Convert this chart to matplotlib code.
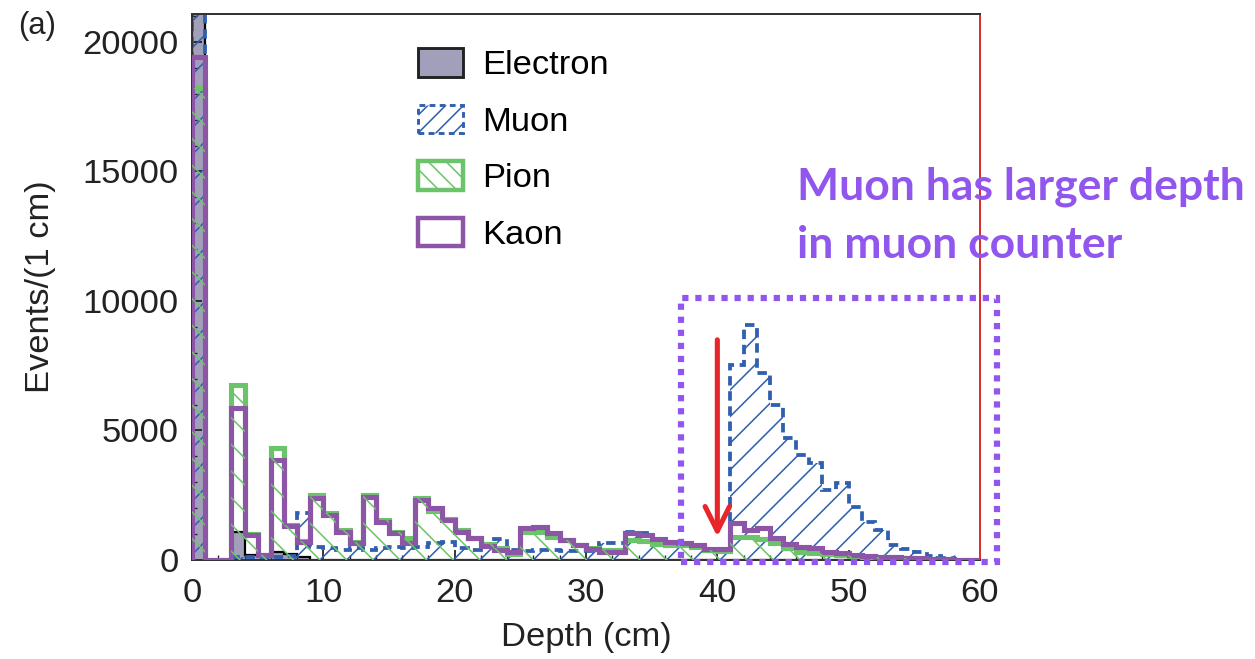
import numpy as np
import matplotlib
matplotlib.use('Agg')
import matplotlib.pyplot as plt
from matplotlib.patches import Patch, Rectangle
from matplotlib.ticker import MultipleLocator

# depth histogram, 1 cm bins from 0 to 60 cm
edges = np.arange(0, 61, 1)

electron = [25000, 0, 0, 1100, 200, 150, 300, 250, 100, 0,
            0, 0, 0, 0, 0, 0, 0, 0, 0, 0,
            0, 0, 0, 0, 0, 0, 0, 0, 0, 0,
            0, 0, 0, 0, 0, 0, 0, 0, 0, 0,
            0, 0, 0, 0, 0, 0, 0, 0, 0, 0,
            0, 0, 0, 0, 0, 0, 0, 0, 0, 0]

muon = [25000, 0, 0, 100, 100, 80, 100, 150, 1800, 500,
        450, 400, 450, 400, 450, 500, 450, 500, 650, 700,
        450, 400, 500, 800, 400, 350, 400, 380, 350, 330,
        350, 650, 650, 1100, 1050, 700, 650, 550, 450, 400,
        420, 7530, 9070, 7220, 5980, 4700, 4050, 3730, 2700, 2960,
        2060, 1480, 1160, 580, 410, 320, 150, 60, 0, 0]

pion = [18220, 0, 0, 6760, 1000, 200, 4320, 1350, 750, 2510,
        1800, 1150, 700, 2510, 1550, 1100, 850, 2400, 1900, 1580,
        1150, 850, 600, 450, 250, 1090, 1100, 900, 770, 580,
        450, 380, 380, 770, 740, 600, 580, 560, 520, 400,
        350, 900, 880, 800, 650, 460, 320, 280, 220, 200,
        150, 130, 100, 80, 60, 50, 40, 20, 10, 0]

kaon = [19420, 0, 0, 5860, 950, 200, 3860, 1300, 700, 2400,
        1740, 1090, 650, 2440, 1480, 1040, 650, 2320, 2000, 1540,
        1090, 840, 540, 390, 320, 1220, 1290, 1060, 770, 580,
        410, 320, 320, 1030, 965, 800, 710, 650, 580, 420,
        410, 1410, 1150, 1250, 840, 600, 520, 450, 300, 280,
        200, 150, 120, 100, 80, 60, 40, 20, 10, 0]

note_lines = ['Muon has larger depth', 'in muon counter']

c_el = '#a29fba'
c_mu = '#2f5fae'
c_pi = '#6cc46a'
c_ka = '#8c55a6'
c_note = '#9056ee'

plt.rcParams['font.family'] = ['Liberation Sans', 'DejaVu Sans']
plt.rcParams['hatch.linewidth'] = 0.7

fig = plt.figure(figsize=(1255 / 160, 659 / 160), dpi=160)
ax = fig.add_axes([192 / 1255, 1 - 560 / 659, (980 - 192) / 1255, (560 - 14) / 659])

ax.stairs(electron, edges, fill=True, facecolor=c_el, edgecolor='black', lw=1.0, zorder=1)
ax.stairs(muon, edges, fill=True, facecolor='none', edgecolor=c_mu, hatch='//',
          lw=0, zorder=2)
ax.stairs(muon, edges, color=c_mu, lw=1.7, ls=(0, (2.5, 1.5)), zorder=2.1)
ax.stairs(pion, edges, color=c_pi, lw=2.3, zorder=3)
ax.stairs(kaon, edges, color=c_ka, lw=2.3, zorder=3.5)
ax.stairs(pion, edges, fill=True, facecolor='none', edgecolor=c_pi, hatch='\\\\',
          lw=0, zorder=4)

ax.set_xlim(0, 60)
ax.set_ylim(0, 21080)
ax.xaxis.set_major_locator(MultipleLocator(10))
ax.xaxis.set_minor_locator(MultipleLocator(2))
ax.yaxis.set_major_locator(MultipleLocator(5000))
ax.yaxis.set_minor_locator(MultipleLocator(1000))
ax.tick_params(which='both', direction='in', top=False, right=False,
               labelsize=15.5, colors='#222222')
ax.tick_params(which='major', length=4.5, width=0.8, pad=6)
ax.tick_params(which='minor', length=2.3, width=0.6)
ax.tick_params(axis='x', pad=8)
for s in ['left', 'bottom', 'top']:
    ax.spines[s].set_color('#333333')
    ax.spines[s].set_linewidth(0.9)
ax.spines['right'].set_color('#d63030')
ax.spines['right'].set_linewidth(0.9)

ax.set_xlabel('Depth (cm)', fontsize=15.5, color='#222222', labelpad=6)
ax.set_ylabel('Events/(1 cm)', fontsize=15.5, color='#222222', labelpad=12)
fig.text(18 / 1255, 1 - 26 / 659, '(a)', fontsize=14, color='#222222', va='center')

handles = [
    Patch(facecolor=c_el, edgecolor='#222222', lw=1.3),
    Patch(facecolor='none', edgecolor=c_mu, hatch='///', lw=1.3, ls=(0, (2, 1.5))),
    Patch(facecolor='none', edgecolor=c_pi, hatch='\\\\\\', lw=2.0),
    Patch(facecolor='none', edgecolor=c_ka, lw=2.0),
]
ax.legend(handles, ['Electron', 'Muon', 'Pion', 'Kaon'], loc='upper left',
          bbox_to_anchor=(418 / 1255, 1 - 48 / 659), bbox_transform=fig.transFigure,
          frameon=False, fontsize=15.5, handlelength=1.3, handleheight=0.9,
          handletextpad=0.55, labelspacing=0.68, borderpad=0, borderaxespad=0)

# highlight box around the deep region
box = Rectangle((37.2, -80), 24.1, 10180, fill=False, edgecolor=c_note, lw=2.8,
                ls=(0, (1, 1.1)), clip_on=False, zorder=6)
ax.add_patch(box)

ax.annotate('', xy=(40, 900), xytext=(40, 8500),
            arrowprops=dict(arrowstyle='->,head_length=1.1,head_width=0.55',
                            color='#e8262a', lw=2.3, mutation_scale=10,
                            shrinkA=0, shrinkB=0), zorder=7)

for i, line in enumerate(note_lines):
    fig.text(797 / 1255, 1 - (187 + 58 * i) / 659, line,
             fontsize=20, fontweight='bold', family=['Lato', 'DejaVu Sans'],
             color=c_note, va='center', ha='left')

fig.savefig('out.png', dpi=160)
